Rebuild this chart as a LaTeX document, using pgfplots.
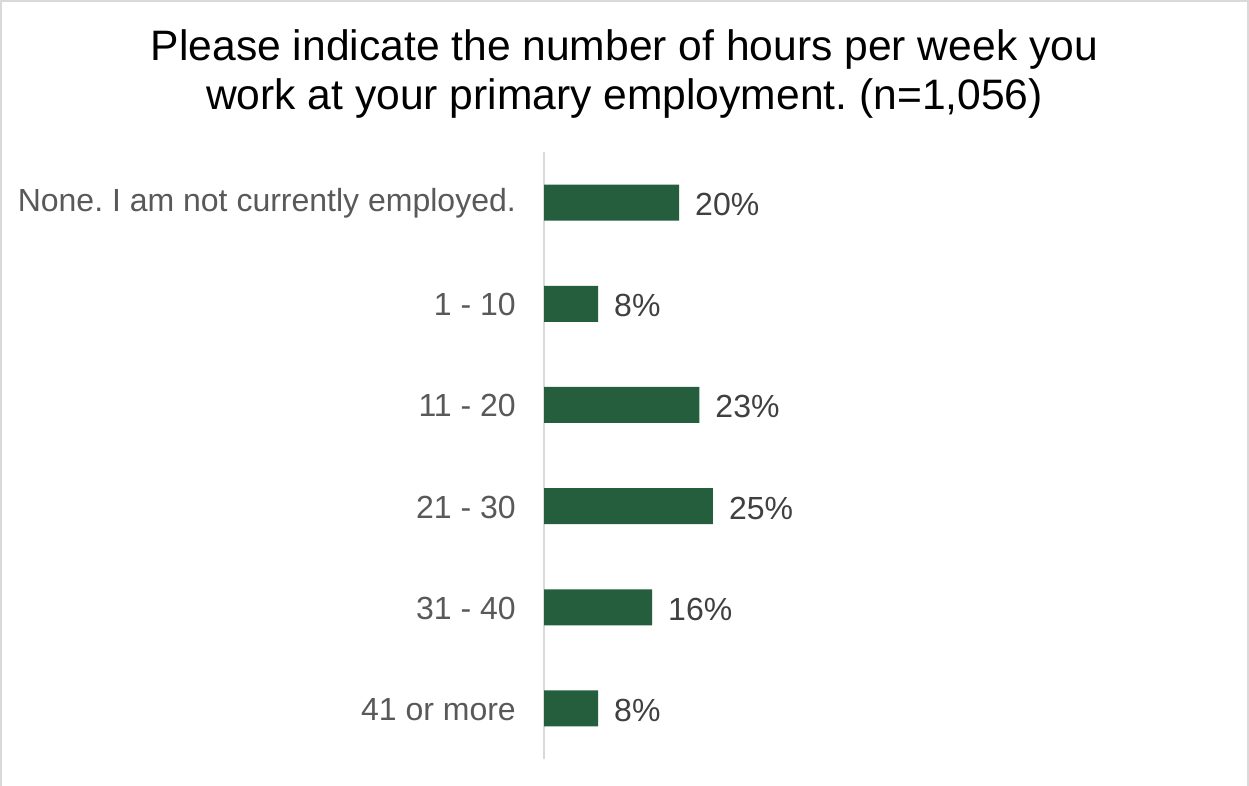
\documentclass[border=0pt]{standalone}
\usepackage{pgfplots}
\pgfplotsset{compat=1.18}
\usepackage{fontspec}
\setmainfont{Liberation Sans}
\frenchspacing
\definecolor{bargreen}{HTML}{245E3C}
\definecolor{lblgray}{HTML}{595959}
\definecolor{valgray}{HTML}{404040}
\definecolor{linegray}{HTML}{D9D9D9}

\pgfplotstableread{
idx value
0 20
1 8
2 23
3 25
4 16
5 8
}\hours

\begin{document}
\begin{tikzpicture}
  \useasboundingbox (0pt,0pt) rectangle (1249pt,786pt);
  \fill[white] (0pt,0pt) rectangle (1249pt,786pt);
  \draw[linegray, line width=2pt] (1pt,0pt) -- (1pt,785pt) -- (1248pt,785pt) -- (1248pt,0pt);

  \node[anchor=base, font=\fontsize{42.6}{50}\selectfont] at (624.5pt,725pt)
    {Please indicate the number of hours per week you};
  \node[anchor=base, font=\fontsize{42.6}{50}\selectfont] at (624.5pt,676pt)
    {work at your primary employment. (n=1,056)};

  \begin{axis}[
    at={(544pt,27pt)}, anchor=south west,
    scale only axis,
    width=686pt, height=607pt,
    xbar, bar width=36pt,
    xmin=0, xmax=101.6,
    ymin=-0.5, ymax=5.5,
    y dir=reverse,
    hide x axis,
    axis y line=left,
    y axis line style={-, draw=linegray, line width=2pt},
    ytick={0,1,2,3,4,5},
    yticklabels={None. I am not currently employed., 1 - 10, 11 - 20, 21 - 30, 31 - 40, 41 or more},
    major tick length=0pt,
    /pgf/number format/assume math mode=true,
    yticklabel style={font=\fontsize{32}{38}\selectfont, text=lblgray, inner sep=0pt, anchor=east, xshift=-28pt, yshift=-1pt},
    point meta=x,
    nodes near coords={\pgfmathprintnumber{\pgfplotspointmeta}\%},
    nodes near coords style={font=\fontsize{32}{38}\selectfont, text=valgray, anchor=west, inner sep=0pt, xshift=16pt, yshift=-2pt},
  ]
    \addplot[fill=bargreen, draw=none] table[x=value, y=idx] {\hours};
  \end{axis}
\end{tikzpicture}
\end{document}
